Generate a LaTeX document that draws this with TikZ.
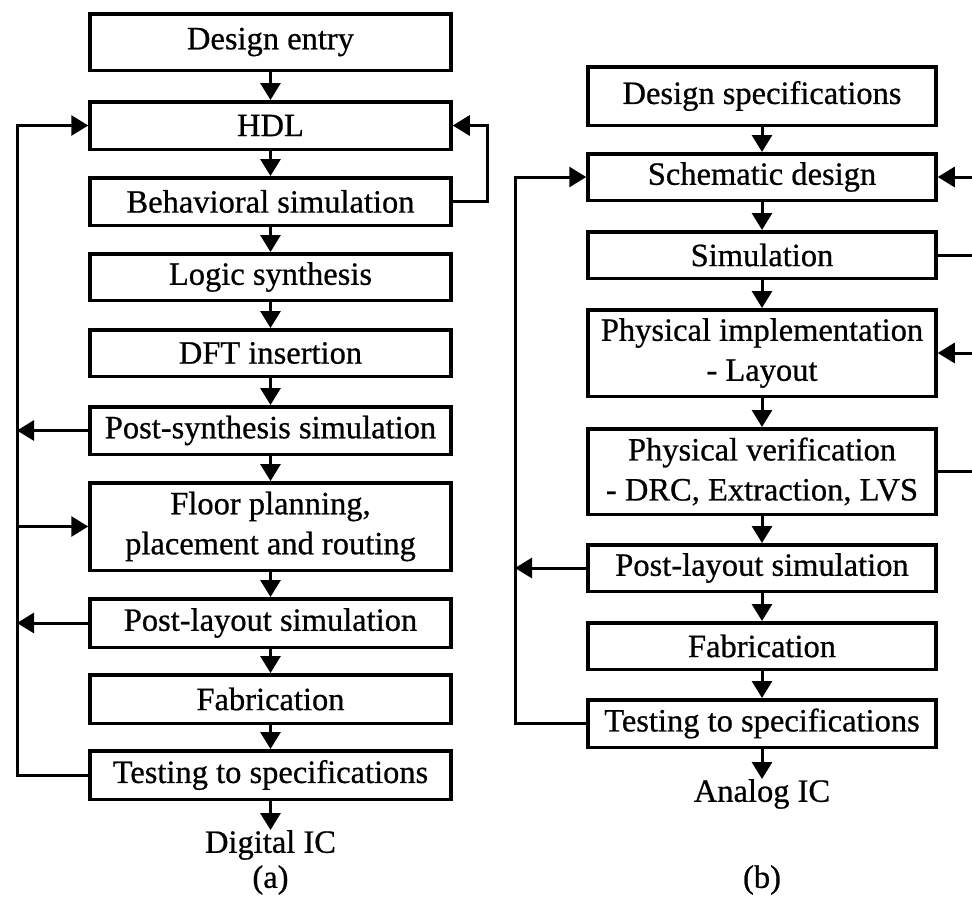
\documentclass[tikz,border=0pt]{standalone}
\usepackage{fontspec}
\setmainfont{Liberation Serif}[BoldFont={Liberation Serif},BoldFeatures={FakeBold=0.7}]
\usetikzlibrary{arrows.meta,calc}
\begin{document}
\begin{tikzpicture}[x=1pt,y=-1pt,
  box/.style={draw,line width=3.5pt,inner sep=0pt,align=center,font=\fontsize{32.5}{40}\selectfont\bfseries},
  lbox/.style={box,minimum width=361pt},
  rbox/.style={box,minimum width=348pt},
  lbl/.style={inner sep=0pt,font=\fontsize{32.5}{40}\selectfont\bfseries},
  arr/.style={line width=3pt,-{Triangle[length=17pt,width=20pt]}},
  ln/.style={line width=3pt}]
\useasboundingbox (0,0) rectangle (972,906);
% left panel
\node[lbox,minimum height=56.5pt] (de) at (270.5,42) {Design entry};
\node[lbox,minimum height=47.5pt] (hdl) at (270.5,125.5) {HDL};
\node[lbox,minimum height=47.5pt] (beh) at (270.5,201.5) {Behavioral simulation};
\node[lbox,minimum height=46.5pt] (log) at (270.5,277) {Logic synthesis};
\node[lbox,minimum height=46.5pt] (dft) at (270.5,353) {DFT insertion};
\node[lbox,minimum height=47.5pt] (pss) at (270.5,430.5) {Post-synthesis simulation};
\node[lbox,minimum height=87.5pt] (fp) at (270.5,526.5) {Floor planning,\\placement and routing};
\node[lbox,minimum height=48.5pt] (pls) at (270.5,623) {Post-layout simulation};
\node[lbox,minimum height=48.5pt] (fab) at (270.5,699) {Fabrication};
\node[lbox,minimum height=48.5pt] (tst) at (270.5,775) {Testing to specifications};
\node[lbl] (dig) at (270.5,845) {Digital IC};
\node[lbl] (a) at (270.5,880) {(a)};
\foreach \u/\v in {de/hdl,hdl/beh,beh/log,log/dft,dft/pss,pss/fp,fp/pls,pls/fab,fab/tst}
  \draw[arr] (\u.south) -- (\v.north);
\draw[arr] (tst.south) -- (dig.north);
\coordinate (L) at (17,0);
\draw[arr] (tst.west) -| (L |- hdl.west) -- (hdl.west);
\draw[arr] (pss.west) -- (pss.west -| L);
\draw[arr] (fp.west -| L) -- (fp.west);
\draw[arr] (pls.west) -- (pls.west -| L);
\coordinate (LR) at (487,0);
\draw[arr] (beh.east) -| (LR |- hdl.east) -- (hdl.east);
% right panel
\node[rbox,minimum height=58.5pt] (ds) at (762,96) {Design specifications};
\node[rbox,minimum height=46.5pt] (sch) at (762,177) {Schematic design};
\node[rbox,minimum height=46.5pt] (sim) at (762,255) {Simulation};
\node[rbox,minimum height=86.5pt] (pi) at (762,353) {Physical implementation\\- Layout};
\node[rbox,minimum height=85.5pt] (pv) at (762,471.5) {Physical verification\\- DRC, Extraction, LVS};
\node[rbox,minimum height=46.5pt] (pl2) at (762,568) {Post-layout simulation};
\node[rbox,minimum height=46.5pt] (fab2) at (762,646) {Fabrication};
\node[rbox,minimum height=47.5pt] (tst2) at (762,723.5) {Testing to specifications};
\node[lbl] (ana) at (762,794) {Analog IC};
\node[lbl] (b) at (762,880) {(b)};
\foreach \u/\v in {ds/sch,sch/sim,sim/pi,pi/pv,pv/pl2,pl2/fab2,fab2/tst2}
  \draw[arr] (\u.south) -- (\v.north);
\draw[arr] (tst2.south) -- (ana.north);
\coordinate (R) at (515,0);
\draw[arr] (tst2.west) -| (R |- sch.west) -- (sch.west);
\draw[arr] (pl2.west) -- (pl2.west -| R);
\coordinate (E) at (972,0);
\draw[arr] (sch.east -| E) -- (sch.east);
\draw[ln] (sim.east) -- (sim.east -| E);
\draw[arr] (pi.east -| E) -- (pi.east);
\draw[ln] (pv.east) -- (pv.east -| E);
\end{tikzpicture}
\end{document}
